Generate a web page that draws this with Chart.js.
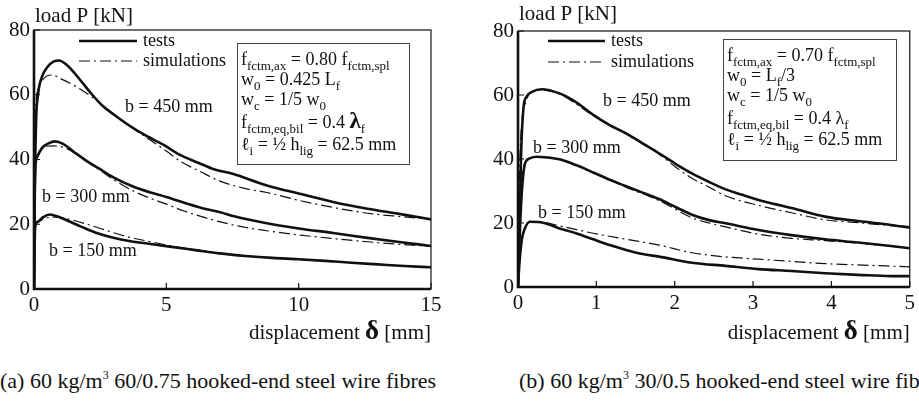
<!DOCTYPE html>
<html>
<head>
<meta charset="utf-8">
<script src="https://cdn.jsdelivr.net/npm/chart.js@4.4.1/dist/chart.umd.min.js"></script>
<style>
  html, body { margin: 0; padding: 0; background: #fff; overflow: hidden; }
  body { width: 919px; height: 404px; position: relative; font-family: 'Liberation Serif', serif; color: #111; }
  canvas { position: absolute; top: 0; }
  #chartA { left: 0; }
  #chartB { left: 460px; }
  .caption { position: absolute; top: 370px; font-size: 22px; line-height: 22px; white-space: nowrap; }
  .caption sup { font-size: 12px; vertical-align: 9px; line-height: 0; }
</style>
</head>
<body>
<canvas id="chartA" width="460" height="350"></canvas>
<canvas id="chartB" width="459" height="350"></canvas>
<div class="caption" style="left:0px">(a) 60 kg/m<sup>3</sup> 60/0.75 hooked-end steel wire fibres</div>
<div class="caption" style="left:519px">(b) 60 kg/m<sup>3</sup> 30/0.5 hooked-end steel wire fibres</div>
<script>
// ---- (a) 60/0.75 fibres, displacement 0..15 mm ----
const aTest450X = [0, 0.03, 0.08, 0.15, 0.3, 0.5, 0.75, 0.95, 1.2, 1.5, 1.8, 2.2, 2.6, 3.0, 3.6, 4.2, 4.9, 5.5, 6.2, 6.8, 7.5, 8.8, 10, 11.3, 12.6, 13.8, 15];
const aTest450Y = [0, 30, 52, 60, 65.5, 68.5, 70.3, 70.6, 69.5, 67, 64, 60, 56.5, 54, 50.5, 47.5, 44.5, 41.5, 39, 37, 35.6, 32, 29.5, 26.9, 24.8, 23.2, 21.5];
const aSim450X = [0, 0.02, 0.06, 0.15, 0.35, 0.65, 1.1, 1.7, 2.4, 3.0, 3.6, 4.25, 5.0, 5.5, 6.3, 7.0, 8.0, 8.8, 10, 11.3, 12.6, 13.8, 15];
const aSim450Y = [0, 35, 55, 61.5, 64.8, 66.1, 64.6, 62, 58, 54, 50.3, 46.8, 42.6, 39.6, 36.2, 33.4, 31, 29.8, 27.4, 25.2, 23.4, 22.4, 21.6];

const aTest300X = [0, 0.02, 0.05, 0.12, 0.3, 0.55, 0.8, 1.1, 1.5, 2.0, 2.5, 3.0, 3.7, 4.4, 5.0, 5.7, 6.4, 7.0, 7.6, 8.8, 10, 11.3, 12.6, 13.8, 15];
const aTest300Y = [0, 25, 37.5, 40.8, 43.5, 45, 45.6, 44.8, 42.4, 39.5, 37, 34.5, 31.8, 29.8, 28.4, 26.6, 24.9, 23.8, 22.4, 20.3, 18.7, 17.3, 15.8, 14.5, 13.3];
const aSim300X = [0, 0.02, 0.06, 0.15, 0.4, 0.7, 1.0, 1.5, 2.0, 2.5, 3.0, 3.7, 4.4, 5.0, 5.7, 6.4, 7.0, 8.0, 8.8, 10, 10.8, 12.6, 13.8, 15];
const aSim300Y = [0, 27, 38, 41.5, 44, 44.2, 44, 42.2, 39.3, 36.7, 33.8, 30.5, 28, 26.2, 24, 22.2, 20.8, 19, 18, 16.7, 16, 14.6, 13.8, 13.2];

const aTest150X = [0, 0.02, 0.05, 0.15, 0.35, 0.6, 0.9, 1.3, 1.8, 2.4, 3.0, 3.6, 4.4, 5.2, 6.1, 7.0, 8.0, 9.0, 10, 11, 12, 13, 14, 15];
const aTest150Y = [0, 12, 19.5, 20.8, 22.2, 23, 22.4, 21, 19.2, 17.2, 15.8, 14.8, 13.9, 13, 12, 11, 10.2, 9.6, 9.2, 8.7, 8.1, 7.6, 7.1, 6.7];
const aSim150X = [0, 0.02, 0.06, 0.2, 0.5, 0.8, 1.2, 1.8, 2.4, 3.0, 3.6, 4.4, 5.2, 6.1, 7.0, 8.0, 9.0, 10, 11, 12, 13, 14, 15];
const aSim150Y = [0, 13, 19.8, 21, 22, 22.2, 21.8, 20.5, 19, 17.4, 16, 14.6, 13.3, 12.1, 11.1, 10.2, 9.6, 9.1, 8.6, 8.1, 7.6, 7.1, 6.7];

// ---- (b) 30/0.5 fibres, displacement 0..5 mm ----
const bTest450X = [0, 0.02, 0.04, 0.07, 0.11, 0.18, 0.3, 0.53, 0.74, 0.96, 1.17, 1.38, 1.59, 1.8, 2.01, 2.22, 2.44, 2.65, 2.86, 3.07, 3.28, 3.49, 3.92, 4.34, 4.76, 5];
const bTest450Y = [0, 20, 42, 56, 59.5, 61, 61.8, 60.5, 57.8, 53.8, 50.6, 48, 44.9, 41.8, 38.5, 35.5, 32.8, 30.5, 28.8, 27.2, 25.9, 24.7, 22.0, 20.6, 19.4, 18.6];
const bSim450X = [0, 0.02, 0.05, 0.09, 0.15, 0.3, 0.53, 0.96, 1.38, 1.8, 2.01, 2.22, 2.44, 2.65, 3.07, 3.49, 3.92, 4.34, 4.76, 5];
const bSim450Y = [0, 35, 52, 57, 60.5, 61.5, 60.3, 53.6, 47.8, 41.5, 37.5, 34, 31.2, 28.5, 25.5, 23.2, 21.0, 20.1, 19.2, 18.7];

const bTest300X = [0, 0.02, 0.05, 0.09, 0.15, 0.24, 0.53, 0.74, 0.96, 1.17, 1.38, 1.59, 1.8, 2.01, 2.22, 2.44, 2.65, 3.07, 3.49, 3.92, 4.34, 4.76, 5];
const bTest300Y = [0, 15, 30, 38.6, 40.2, 40.7, 39.9, 38.1, 35.8, 33.5, 31.5, 29.5, 27.5, 25, 22.6, 20.9, 19.9, 17.8, 16.2, 14.9, 13.9, 12.8, 12.1];
const bSim300X = [0, 0.02, 0.05, 0.09, 0.15, 0.24, 0.53, 0.96, 1.38, 1.8, 2.01, 2.22, 2.44, 2.65, 3.07, 3.49, 3.92, 4.34, 4.76, 5];
const bSim300Y = [0, 18, 33, 39, 40.3, 40.6, 39.8, 35.7, 31.2, 27.0, 24.3, 21.6, 20, 18.8, 16.5, 15.2, 14.5, 13.7, 12.8, 12.1];

const bTest150X = [0, 0.02, 0.05, 0.08, 0.15, 0.32, 0.53, 0.74, 0.96, 1.17, 1.38, 1.59, 1.8, 2.22, 2.65, 3.07, 3.49, 3.92, 4.34, 4.76, 5];
const bTest150Y = [0, 8, 15, 17.8, 20.4, 20.1, 18.3, 16.8, 14.9, 13.1, 11.6, 10.3, 9.5, 7.6, 6.6, 5.6, 5, 4.3, 3.8, 3.4, 3.4];
const bSim150X = [0, 0.02, 0.05, 0.08, 0.15, 0.32, 0.53, 0.96, 1.38, 1.8, 2.22, 2.65, 3.07, 3.49, 3.92, 4.34, 5];
const bSim150Y = [0, 8, 15, 18, 20.3, 20.2, 19.1, 16.8, 14.9, 13.1, 10.7, 9.4, 8.7, 8.0, 7.3, 6.9, 6.3];

const loadTicks = [0, 20, 40, 60, 80];
const aDispTicks = [0, 5, 10, 15];
const bDispTicks = [0, 1, 2, 3, 4, 5];

const FONT = '"Liberation Serif", serif';
const INK = '#111';
const SIM_DASH = [11, 4, 2, 4];

function pts(xs, ys) {
  return xs.map((x, i) => ({ x: x, y: ys[i] }));
}

function testSet(xs, ys) {
  return { data: pts(xs, ys), borderColor: INK, borderWidth: 2.6, borderDash: [] };
}
function simSet(xs, ys) {
  return { data: pts(xs, ys), borderColor: INK, borderWidth: 1.2, borderDash: SIM_DASH };
}

// text with subscripts: parts = [[text, kind]], kind n = normal, s = subscript, L = large symbol
function fontFor(kind, size) {
  if (kind === 's') return Math.round(size * 0.72) + 'px ' + FONT;
  if (kind === 'L') return 'bold ' + Math.round(size * 1.3) + 'px ' + FONT;
  return size + 'px ' + FONT;
}
function runWidth(ctx, parts, size) {
  let w = 0;
  parts.forEach(p => {
    ctx.font = fontFor(p[1], size);
    w += ctx.measureText(p[0]).width;
  });
  return w;
}
function drawRuns(ctx, x, y, parts, size) {
  parts.forEach(p => {
    ctx.font = fontFor(p[1], size);
    ctx.fillText(p[0], x, y + (p[1] === 's' ? size * 0.3 : 0));
    x += ctx.measureText(p[0]).width;
  });
}

const decor = {
  id: 'decor',
  afterDatasetsDraw(chart, args, o) {
    const ctx = chart.ctx, a = chart.chartArea;
    const xs = chart.scales.x, ys = chart.scales.y;
    ctx.save();
    ctx.strokeStyle = INK;
    ctx.fillStyle = INK;
    ctx.setLineDash([]);

    // frame: heavy left/bottom, light top/right
    ctx.lineWidth = 1.2;
    ctx.strokeRect(a.left, a.top, a.right - a.left, a.bottom - a.top);
    ctx.lineWidth = 2.6;
    ctx.beginPath();
    ctx.moveTo(a.left, a.top);
    ctx.lineTo(a.left, a.bottom);
    ctx.lineTo(a.right, a.bottom);
    ctx.stroke();

    // short inward ticks
    ctx.lineWidth = 1.2;
    ctx.beginPath();
    xs.ticks.forEach(t => {
      const px = xs.getPixelForValue(t.value);
      ctx.moveTo(px, a.bottom);
      ctx.lineTo(px, a.bottom - 6);
    });
    ys.ticks.forEach(t => {
      const py = ys.getPixelForValue(t.value);
      ctx.moveTo(a.left, py);
      ctx.lineTo(a.left + 6, py);
    });
    ctx.stroke();

    // legend
    const lg = o.legend;
    ctx.lineWidth = 2.6;
    ctx.beginPath();
    ctx.moveTo(lg.x0, lg.y1); ctx.lineTo(lg.x1, lg.y1);
    ctx.stroke();
    ctx.lineWidth = 1.2;
    ctx.setLineDash(SIM_DASH);
    ctx.beginPath();
    ctx.moveTo(lg.x0, lg.y2); ctx.lineTo(lg.x1, lg.y2);
    ctx.stroke();
    ctx.setLineDash([]);
    ctx.font = '18px ' + FONT;
    ctx.textBaseline = 'alphabetic';
    ctx.fillText('tests', lg.x1 + 6, lg.y1 + 5);
    ctx.fillText('simulations', lg.x1 + 6, lg.y2 + 5);

    // curve labels
    ctx.font = '18px ' + FONT;
    o.labels.forEach(l => ctx.fillText(l.text, l.x, l.y));

    // parameter box
    const bx = o.box;
    ctx.lineWidth = 1;
    ctx.strokeStyle = '#444';
    ctx.strokeRect(bx.x + 0.5, bx.y + 0.5, bx.w, bx.h);
    bx.lines.forEach((ln, i) => drawRuns(ctx, bx.x + 4, bx.base[i], ln, 18));

    // axis titles
    ctx.font = '21px ' + FONT;
    ctx.fillText('load P [kN]', a.left + 1, o.titleY);
    const dparts = [['displacement ', 'n'], ['δ', 'L'], [' [mm]', 'n']];
    const dw = runWidth(ctx, dparts, 21);
    drawRuns(ctx, a.right - dw, 339, dparts, 21);

    ctx.restore();
  }
};

function makeChart(id, sets, xMax, xTicks, lay, deco) {
  return new Chart(document.getElementById(id), {
    type: 'scatter',
    data: { datasets: sets },
    options: {
      responsive: false,
      animation: false,
      devicePixelRatio: 1,
      layout: { padding: lay.padding },
      elements: {
        point: { radius: 0, hoverRadius: 0 },
        line: { cubicInterpolationMode: 'monotone', fill: false, borderCapStyle: 'butt' }
      },
      datasets: { scatter: { showLine: true } },
      scales: {
        x: {
          type: 'linear', min: 0, max: xMax,
          afterBuildTicks: s => { s.ticks = xTicks.map(v => ({ value: v })); },
          afterFit: s => { s.height = lay.xHeight; },
          grid: { display: false, drawTicks: false },
          border: { display: false },
          ticks: { color: INK, font: { family: FONT, size: 21 }, padding: 4, maxRotation: 0 }
        },
        y: {
          type: 'linear', min: 0, max: 80,
          afterBuildTicks: s => { s.ticks = loadTicks.map(v => ({ value: v })); },
          afterFit: s => { s.width = lay.yWidth; },
          grid: { display: false, drawTicks: false },
          border: { display: false },
          ticks: { color: INK, font: { family: FONT, size: 21 }, padding: 4 }
        }
      },
      plugins: {
        legend: { display: false },
        tooltip: { enabled: false },
        decor: deco
      }
    },
    plugins: [decor]
  });
}

const boxLinesCommon = [
  [['w', 'n'], ['c', 's'], [' = 1/5 w', 'n'], ['0', 's']],
  [['f', 'n'], ['fctm,eq,bil', 's'], [' = 0.4 ', 'n']],
  [['ℓ', 'n'], ['i', 's'], [' = ½ h', 'n'], ['lig', 's'], [' = 62.5 mm', 'n']]
];

makeChart('chartA', [
  testSet(aTest450X, aTest450Y), simSet(aSim450X, aSim450Y),
  testSet(aTest300X, aTest300Y), simSet(aSim300X, aSim300Y),
  testSet(aTest150X, aTest150Y), simSet(aSim150X, aSim150Y)
], 15, aDispTicks,
  { padding: { top: 30, right: 29, left: 0, bottom: 0 }, xHeight: 61, yWidth: 34 },
  {
    titleY: 22,
    legend: { x0: 79, x1: 137, y1: 41, y2: 61 },
    labels: [
      { text: 'b = 450 mm', x: 125, y: 112 },
      { text: 'b = 300 mm', x: 42, y: 202 },
      { text: 'b = 150 mm', x: 49, y: 256 }
    ],
    box: {
      x: 237, y: 43, w: 172, h: 121,
      base: [65, 85, 105, 128, 150],
      lines: [
        [['f', 'n'], ['fctm,ax', 's'], [' = 0.80 f', 'n'], ['fctm,spl', 's']],
        [['w', 'n'], ['0', 's'], [' = 0.425 L', 'n'], ['f', 's']],
        boxLinesCommon[0],
        boxLinesCommon[1].concat([['λ', 'L'], ['f', 's']]),
        boxLinesCommon[2]
      ]
    }
  });

makeChart('chartB', [
  testSet(bTest450X, bTest450Y), simSet(bSim450X, bSim450Y),
  testSet(bTest300X, bTest300Y), simSet(bSim300X, bSim300Y),
  testSet(bTest150X, bTest150Y), simSet(bSim150X, bSim150Y)
], 5, bDispTicks,
  { padding: { top: 31, right: 7, left: 0, bottom: 0 }, xHeight: 63, yWidth: 58 },
  {
    titleY: 20,
    legend: { x0: 88, x1: 145, y1: 41, y2: 62 },
    labels: [
      { text: 'b = 450 mm', x: 143, y: 106 },
      { text: 'b = 300 mm', x: 73, y: 153 },
      { text: 'b = 150 mm', x: 78, y: 218 }
    ],
    box: {
      x: 263, y: 39, w: 173, h: 121,
      base: [61, 81, 101, 124, 145],
      lines: [
        [['f', 'n'], ['fctm,ax', 's'], [' = 0.70 f', 'n'], ['fctm,spl', 's']],
        [['w', 'n'], ['0', 's'], [' = L', 'n'], ['f', 's'], ['/3', 'n']],
        boxLinesCommon[0],
        boxLinesCommon[1].concat([['λ', 'n'], ['f', 's']]),
        boxLinesCommon[2]
      ]
    }
  });
</script>
</body>
</html>
